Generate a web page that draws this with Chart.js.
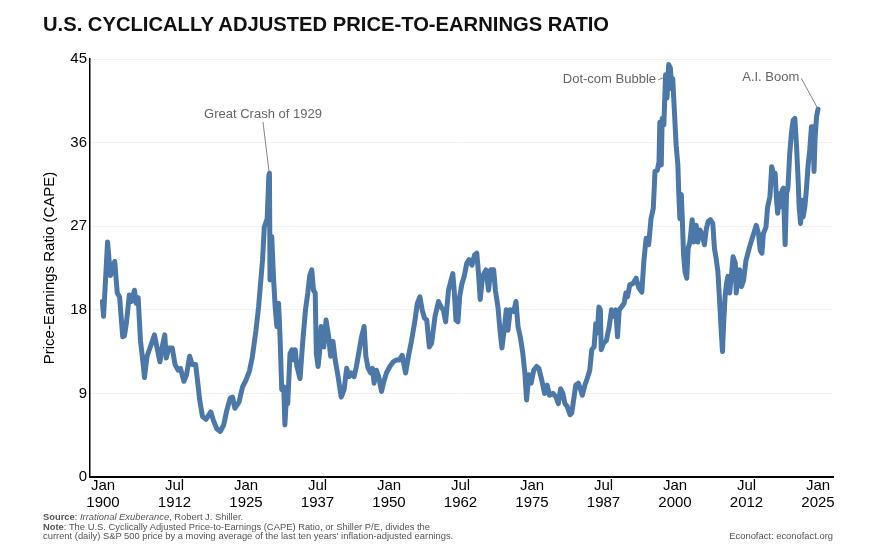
<!DOCTYPE html>
<html lang="en">
<head>
<meta charset="utf-8">
<title>U.S. Cyclically Adjusted Price-to-Earnings Ratio</title>
<script src="https://cdn.jsdelivr.net/npm/chart.js"></script>
<style>
    body { margin: 0; background: #fff; font-family: "Liberation Sans", Arial, sans-serif; }
    #wrap { position: relative; width: 871px; height: 551px; overflow: hidden; }
    #chart { position: absolute; left: 0; top: 0; }
    h1 { position: absolute; left: 43px; top: 13px; margin: 0; font-size: 20.2px; font-weight: bold; color: #111; white-space: nowrap; }
    .foot { position: absolute; left: 43px; top: 512px; font-size: 9.4px; line-height: 9.7px; color: #555; white-space: nowrap; }
    .credit { position: absolute; right: 38px; top: 531px; font-size: 9.4px; line-height: 10px; color: #555; }
</style>
</head>
<body>
<div id="wrap">
    <canvas id="chart" width="871" height="551"></canvas>
    <h1>U.S. CYCLICALLY ADJUSTED PRICE-TO-EARNINGS RATIO</h1>
    <div class="foot">
        <b>Source</b>: <i>Irrational Exuberance</i>, Robert J. Shiller.<br>
        <b>Note</b>: The U.S. Cyclically Adjusted Price-to-Earnings (CAPE) Ratio, or Shiller P/E, divides the<br>
        current (daily) S&amp;P 500 price by a moving average of the last ten years' inflation-adjusted earnings.
    </div>
    <div class="credit">Econofact: econofact.org</div>
</div>
<script>
    // dates as decimal years
    const years = [
        1899.9, 1900.1, 1900.8, 1901.3, 1902.05, 1902.5, 1902.9, 1903.45, 1903.75, 1904.1,
        1904.6, 1905.0, 1905.5, 1905.8, 1906.15, 1906.55, 1907.0, 1907.25, 1907.7, 1908.5,
        1909.0, 1909.35, 1909.95, 1910.35, 1910.8, 1911.05, 1911.5, 1912.1, 1912.6, 1913.15,
        1913.55, 1914.15, 1914.6, 1915.15, 1915.6, 1916.2, 1916.6, 1916.9, 1917.4, 1918.0,
        1918.85, 1919.3, 1919.9, 1920.5, 1921.1, 1921.65, 1922.25, 1922.65, 1923.05, 1923.8,
        1924.4, 1924.98, 1925.6, 1926.1, 1926.75, 1927.2, 1927.6, 1927.9, 1928.2, 1928.7,
        1929.0, 1929.1, 1929.2, 1929.5, 1929.8, 1930.1, 1930.4, 1930.7, 1930.95, 1931.25,
        1931.6, 1931.8, 1932.1, 1932.3, 1932.7, 1933.05, 1933.35, 1933.6, 1933.9, 1934.45,
        1934.9, 1935.4, 1935.8, 1936.15, 1936.5, 1936.8, 1937.1, 1937.3, 1937.6, 1937.85,
        1938.15, 1938.45, 1938.6, 1939.0, 1939.45, 1939.8, 1940.2, 1940.6, 1941.1, 1941.65,
        1942.15, 1942.6, 1943.0, 1943.4, 1943.9, 1944.3, 1944.7, 1945.2, 1945.65, 1945.95,
        1946.35, 1946.8, 1947.1, 1947.4, 1947.8, 1948.2, 1948.7, 1949.15, 1949.55, 1950.15,
        1950.75, 1951.3, 1951.8, 1952.3, 1952.9, 1953.4, 1953.95, 1954.55, 1954.95, 1955.4,
        1955.8, 1956.2, 1956.6, 1957.05, 1957.45, 1958.05, 1958.65, 1959.1, 1959.5, 1959.9,
        1960.4, 1960.85, 1961.15, 1961.4, 1961.7, 1962.05, 1962.35, 1962.75, 1963.15, 1963.6,
        1964.0, 1964.5, 1964.95, 1965.35, 1965.65, 1965.95, 1966.35, 1966.95, 1967.4, 1967.8,
        1968.3, 1968.6, 1969.05, 1969.45, 1969.75, 1970.2, 1970.5, 1970.8, 1971.2, 1971.8,
        1972.2, 1972.55, 1972.95, 1973.4, 1973.75, 1974.05, 1974.45, 1974.85, 1975.3, 1975.8,
        1976.2, 1976.65, 1977.2, 1977.65, 1978.05, 1978.65, 1979.2, 1979.6, 1980.0, 1980.4,
        1980.75, 1981.15, 1981.65, 1981.95, 1982.35, 1982.65, 1983.1, 1983.5, 1983.8, 1984.25,
        1984.65, 1985.1, 1985.45, 1985.85, 1986.15, 1986.4, 1986.7, 1986.95, 1987.1, 1987.5,
        1988.0, 1988.5, 1988.9, 1989.35, 1989.65, 1989.95, 1990.25, 1990.65, 1991.1, 1991.4,
        1991.7, 1992.1, 1992.6, 1993.2, 1993.65, 1994.2, 1994.55, 1994.95, 1995.4, 1995.8,
        1996.2, 1996.5, 1996.9, 1997.2, 1997.35, 1997.6, 1997.75, 1998.05, 1998.35, 1998.6,
        1998.9, 1999.2, 1999.4, 1999.6, 1999.9, 2000.2, 2000.5, 2000.65, 2000.85, 2001.1,
        2001.25, 2001.5, 2001.75, 2002.05, 2002.3, 2002.6, 2003.0, 2003.3, 2003.7, 2004.0,
        2004.35, 2004.75, 2005.15, 2005.5, 2005.8, 2006.2, 2006.6, 2006.9, 2007.2, 2007.5,
        2007.8, 2008.1, 2008.3, 2008.5, 2008.75, 2009.0, 2009.25, 2009.55, 2009.85, 2010.15,
        2010.55, 2010.7, 2011.0, 2011.3, 2011.6, 2012.0, 2012.4, 2013.05, 2013.6, 2014.2,
        2014.6, 2014.9, 2015.2, 2015.45, 2015.9, 2016.2, 2016.6, 2016.9, 2017.2, 2017.5,
        2017.75, 2017.95, 2018.25, 2018.55, 2018.75, 2018.95, 2019.25, 2019.5, 2019.75, 2020.05,
        2020.35, 2020.65, 2020.95, 2021.25, 2021.55, 2021.7, 2021.95, 2022.2, 2022.4, 2022.7,
        2023.0, 2023.25, 2023.55, 2023.85, 2024.15, 2024.3, 2024.5, 2024.75, 2025.0
    ];
    const cape = [
        18.9, 17.3, 25.3, 21.7, 23.2, 19.8, 19.4, 15.1, 15.2, 16.6,
        19.6, 18.9, 20.1, 18.7, 19.3, 14.7, 12.3, 10.7, 13.0, 14.4,
        15.3, 14.2, 12.4, 14.0, 15.3, 12.8, 13.9, 13.9, 12.1, 11.5,
        11.7, 10.3, 11.0, 13.0, 12.1, 12.1, 10.0, 8.3, 6.5, 6.2,
        7.0, 6.1, 5.2, 4.9, 5.6, 7.2, 8.5, 8.6, 7.4, 8.1,
        9.7, 10.4, 11.4, 12.9, 15.8, 18.3, 21.2, 23.4, 26.9, 27.8,
        32.5, 32.7, 21.2, 25.9, 21.6, 18.3, 16.2, 18.7, 15.1, 9.4,
        9.7, 5.6, 9.0, 7.9, 13.3, 13.7, 12.6, 13.7, 11.9, 10.6,
        14.4, 18.0, 19.8, 21.7, 22.3, 20.1, 19.8, 13.3, 11.9, 13.3,
        16.2, 15.8, 14.0, 16.9, 15.1, 13.0, 14.6, 12.6, 10.8, 8.6,
        9.4, 11.7, 10.8, 11.2, 10.8, 11.9, 13.3, 15.1, 16.2, 13.0,
        11.7, 11.2, 11.7, 10.1, 11.5, 10.8, 9.2, 10.4, 11.2, 11.9,
        12.4, 12.6, 12.6, 13.1, 11.2, 13.0, 14.7, 16.9, 18.7, 19.4,
        18.0, 17.1, 16.9, 14.0, 14.4, 17.3, 18.9, 18.3, 18.0, 16.7,
        20.1, 21.2, 21.9, 20.1, 16.9, 16.7, 19.4, 20.8, 21.6, 23.0,
        23.4, 22.8, 23.9, 24.1, 21.9, 19.1, 21.6, 22.3, 20.1, 22.3,
        22.3, 20.1, 18.3, 15.5, 13.9, 16.2, 18.0, 15.8, 18.0, 17.8,
        18.9, 16.2, 15.1, 13.3, 11.2, 8.3, 11.0, 10.1, 11.5, 11.9,
        11.7, 10.6, 9.0, 9.9, 8.8, 9.0, 8.6, 7.9, 9.5, 9.0,
        7.9, 7.6, 6.7, 6.9, 8.6, 9.9, 10.1, 9.4, 8.8, 9.9,
        10.6, 11.5, 13.7, 14.0, 16.5, 15.5, 18.3, 18.0, 13.7, 14.4,
        14.7, 16.2, 18.0, 17.3, 18.0, 15.1, 18.0, 18.3, 18.7, 19.8,
        19.4, 20.7, 20.8, 21.4, 20.4, 19.9, 23.2, 25.7, 25.0, 27.8,
        28.9, 32.9, 33.0, 33.9, 38.2, 33.6, 38.6, 37.9, 43.3, 40.8,
        44.4, 44.0, 41.8, 42.9, 39.3, 35.7, 33.6, 30.7, 27.8, 30.4,
        28.2, 23.9, 22.1, 21.4, 24.6, 25.3, 27.7, 25.3, 27.1, 25.3,
        26.6, 26.1, 25.0, 26.8, 27.5, 27.7, 27.3, 24.6, 23.5, 22.1,
        18.9, 15.5, 13.5, 16.5, 19.4, 20.8, 21.6, 19.8, 21.6, 23.7,
        23.0, 19.8, 21.6, 22.3, 20.5, 21.2, 23.3, 24.8, 25.9, 27.1,
        26.2, 24.4, 24.1, 26.2, 26.9, 29.1, 30.2, 33.4, 32.7, 32.7,
        29.8, 28.4, 30.5, 29.1, 30.9, 31.1, 25.0, 30.5, 31.2, 34.8,
        37.0, 38.4, 38.6, 35.6, 31.6, 29.1, 27.3, 29.8, 28.0, 29.1,
        31.2, 33.4, 35.2, 37.7, 37.7, 32.9, 36.6, 38.8, 39.6
    ];

    // x axis tick positions and their two-line labels
    const tickPositions = [1900, 1912.5, 1925, 1937.5, 1950, 1962.5, 1975, 1987.5, 2000, 2012.5, 2025];
    const tickMonths = ['Jan', 'Jul', 'Jan', 'Jul', 'Jan', 'Jul', 'Jan', 'Jul', 'Jan', 'Jul', 'Jan'];
    const tickYears = ['1900', '1912', '1925', '1937', '1950', '1962', '1975', '1987', '2000', '2012', '2025'];

    // callouts: label spot and the point the leader line goes to, both in data units
    const noteTexts = ['Great Crash of 1929', 'Dot-com Bubble', 'A.I. Boom'];
    const noteAlign = ['center', 'right', 'right'];
    const noteLabelAt = [[1927.97, 39.08], [1996.68, 42.85], [2021.73, 43.03]];
    const notePointAt = [[1929.07, 32.69], [1998.43, 43.12], [2024.91, 39.72]];

    const points = years.map((y, i) => ({x: y, y: cape[i]}));

    const callouts = {
        id: 'callouts',
        afterDatasetsDraw(chart) {
            const {ctx, scales: {x, y}} = chart;
            ctx.save();
            ctx.font = '13px "Liberation Sans", Arial, sans-serif';
            ctx.textBaseline = 'middle';
            noteTexts.forEach((text, i) => {
                const lx = x.getPixelForValue(noteLabelAt[i][0]);
                const ly = y.getPixelForValue(noteLabelAt[i][1]);
                const px = x.getPixelForValue(notePointAt[i][0]);
                const py = y.getPixelForValue(notePointAt[i][1]);
                ctx.fillStyle = '#666';
                ctx.textAlign = noteAlign[i];
                ctx.fillText(text, lx, ly);
                // leader line
                ctx.strokeStyle = '#777';
                ctx.lineWidth = 0.9;
                ctx.beginPath();
                if (noteAlign[i] === 'center') {
                    ctx.moveTo(lx, ly + 8);
                } else {
                    ctx.moveTo(lx + 2, ly + 1);
                }
                ctx.lineTo(px, py);
                ctx.stroke();
            });
            ctx.restore();
        }
    };

    const tickFont = {family: '"Liberation Sans", Arial, sans-serif', size: 15, lineHeight: 1.133};

    new Chart(document.getElementById('chart'), {
        type: 'line',
        data: {
            datasets: [{
                data: points,
                borderColor: '#4b78a8',
                borderWidth: 5,
                pointRadius: 0,
                tension: 0,
                borderJoinStyle: 'round',
                borderCapStyle: 'round'
            }]
        },
        options: {
            responsive: false,
            animation: false,
            layout: {padding: {left: 0, top: 59, right: 38, bottom: 0}},
            plugins: {
                legend: {display: false},
                tooltip: {enabled: false}
            },
            scales: {
                x: {
                    type: 'linear',
                    min: 1897.73,
                    max: 2027.62,
                    grid: {display: false, drawTicks: false},
                    border: {display: true, color: '#000', width: 2},
                    afterBuildTicks(scale) {
                        scale.ticks = tickPositions.map(v => ({value: v}));
                    },
                    afterFit(scale) {
                        scale.height = 74;
                    },
                    ticks: {
                        autoSkip: false,
                        maxRotation: 0,
                        padding: 0,
                        color: '#000',
                        font: tickFont,
                        callback: (value, index) => [tickMonths[index], tickYears[index]]
                    }
                },
                y: {
                    min: 0,
                    max: 45,
                    grid: {color: '#f2f2f2', drawTicks: false, lineWidth: 1},
                    border: {display: true, color: '#000', width: 1.5},
                    afterFit(scale) {
                        scale.width = 90;
                    },
                    ticks: {
                        stepSize: 9,
                        padding: 3,
                        color: '#000',
                        font: {family: '"Liberation Sans", Arial, sans-serif', size: 15}
                    },
                    title: {
                        display: true,
                        text: 'Price-Earnings Ratio (CAPE)',
                        color: '#000',
                        font: {family: '"Liberation Sans", Arial, sans-serif', size: 15},
                        padding: {top: 41, bottom: 0}
                    }
                }
            }
        },
        plugins: [callouts]
    });
</script>
</body>
</html>
